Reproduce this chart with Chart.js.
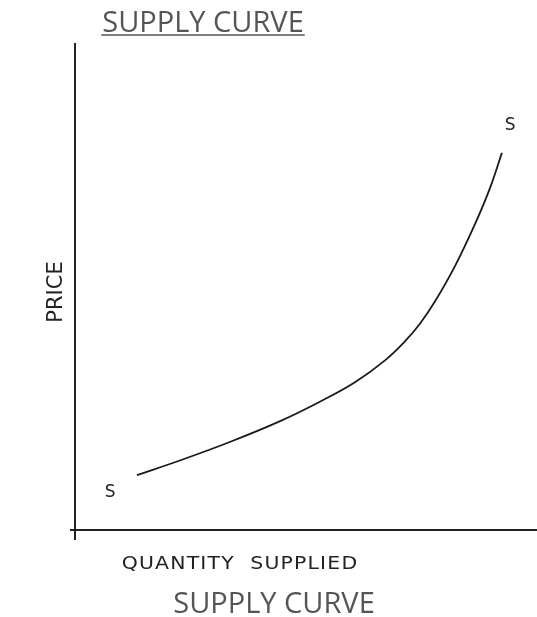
<!DOCTYPE html>
<html>
<head>
<meta charset="utf-8">
<script src="https://cdn.jsdelivr.net/npm/chart.js@4.4.1/dist/chart.umd.min.js"></script>
<style>
  html, body { margin: 0; padding: 0; background: #ffffff; }
  #wrap { width: 537px; height: 617px; }
</style>
</head>
<body>
<div id="wrap"><canvas id="c" width="537" height="617"></canvas></div>
<script>
// ---- data ----
const quantity = [13.4, 22.7, 33.5, 44.4, 53.0, 60.6, 67.1, 71.4, 74.7, 77.9, 82.3, 86.6, 89.8, 92.4];
const price    = [11.3, 14.3, 18.1, 22.4, 26.4, 30.4, 34.9, 38.8, 42.5, 47.0, 54.4, 63.0, 70.3, 77.6];
const curveLabels  = ['S', 'S'];
const curveLabelX  = [7.6, 94.2];
const curveLabelY  = [7.6, 83.3];
const titleText    = 'SUPPLY CURVE';
const xAxisTitle   = 'QUANTITY  SUPPLIED';
const yAxisTitle   = 'PRICE';

const points = quantity.map((q, i) => ({ x: q, y: price[i] }));

// all text drawn relative to the chart area the library lays out
const textPlugin = {
  id: 'textPlugin',
  afterDraw(chart) {
    const { ctx, chartArea: a, scales: { x, y } } = chart;
    ctx.save();
    ctx.textAlign = 'center';
    ctx.textBaseline = 'alphabetic';

    // top title, underlined
    ctx.font = '400 29px "Open Sans"';
    ctx.fillStyle = '#555555';
    const tx = a.left + 128, ty = a.top - 12;
    ctx.fillText(titleText, tx, ty);
    const w = ctx.measureText(titleText).width;
    ctx.strokeStyle = '#555555';
    ctx.lineWidth = 1.5;
    ctx.beginPath();
    ctx.moveTo(tx - w / 2 - 1, a.top - 9);
    ctx.lineTo(tx + w / 2 + 1, a.top - 9);
    ctx.stroke();

    // bottom caption
    ctx.fillText(titleText, a.left + 199, a.bottom + 83);

    // x axis title (slightly widened lettering, as in the picture)
    ctx.save();
    ctx.translate(a.left + 165, a.bottom + 39);
    ctx.scale(1.2, 1);
    ctx.font = '400 17px "DejaVu Sans"';
    ctx.fillStyle = '#222222';
    ctx.letterSpacing = '1px';
    ctx.fillText(xAxisTitle, 0, 0);
    ctx.restore();

    // y axis title
    ctx.save();
    ctx.fillStyle = '#222222';
    ctx.translate(a.left - 13, (a.top + a.bottom) / 2 + 5);
    ctx.rotate(-Math.PI / 2);
    ctx.font = '400 21px "DejaVu Sans"';
    ctx.fillText(yAxisTitle, 0, 0);
    ctx.restore();

    // curve end labels
    ctx.fillStyle = '#222222';
    ctx.font = '400 17px "DejaVu Sans"';
    ctx.textBaseline = 'middle';
    curveLabels.forEach((t, i) => {
      ctx.fillText(t, x.getPixelForValue(curveLabelX[i]), y.getPixelForValue(curveLabelY[i]));
    });
    ctx.restore();
  }
};

new Chart(document.getElementById('c'), {
  type: 'scatter',
  data: {
    datasets: [{
      data: points,
      showLine: true,
      borderColor: '#1a1a1a',
      borderWidth: 1.8,
      pointRadius: 0,
      tension: 0.4,
      fill: false
    }]
  },
  options: {
    responsive: false,
    animation: false,
    events: [],
    layout: { padding: { left: 0, right: 0, top: 44, bottom: 0 } },
    plugins: {
      legend: { display: false },
      tooltip: { enabled: false },
      title: { display: false }
    },
    scales: {
      x: {
        type: 'linear',
        min: 0, max: 100,
        afterBuildTicks(s) { s.ticks = [{ value: 0 }]; },
        afterFit(s) { s.height = 87; },
        ticks: { display: false },
        grid: { drawOnChartArea: false, drawTicks: true, tickLength: 10, color: '#222222', lineWidth: 2 },
        border: { display: true, color: '#222222', width: 2 },
        title: { display: false }
      },
      y: {
        type: 'linear',
        min: 0, max: 100,
        afterBuildTicks(s) { s.ticks = [{ value: 0 }]; },
        afterFit(s) { s.width = 75; },
        ticks: { display: false },
        grid: { drawOnChartArea: false, drawTicks: true, tickLength: 5, color: '#222222', lineWidth: 2 },
        border: { display: true, color: '#222222', width: 2 },
        title: { display: false }
      }
    }
  },
  plugins: [textPlugin]
});
</script>
</body>
</html>
